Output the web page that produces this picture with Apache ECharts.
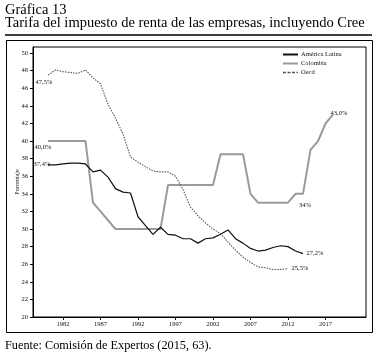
<!DOCTYPE html>
<html><head><meta charset="utf-8">
<script src="https://cdn.jsdelivr.net/npm/echarts@6/dist/echarts.min.js"></script>
<style>html,body{margin:0;padding:0;background:#fff}#c{width:386px;height:363px}</style>
</head><body><div id="c"></div>
<script>
const years = [];
for (let y = 1980; y <= 2018; y++) years.push(y);
const xTicks = [1982, 1987, 1992, 1997, 2002, 2007, 2012, 2017];
const yTicks = [20,22,24,26,28,30,32,34,36,38,40,42,44,46,48,50];
const latam = [37.3,37.3,37.4,37.5,37.5,37.4,36.5,36.7,35.9,34.6,34.2,34.1,31.4,30.4,29.4,30.2,29.4,29.3,28.9,28.9,28.4,28.9,29.0,29.4,29.9,28.9,28.4,27.8,27.5,27.6,27.9,28.1,28.0,27.5,27.2];
const colombia = [40,40,40,40,40,40,33,32,31,30,30,30,30,30,30,30,35,35,35,35,35,35,35,38.5,38.5,38.5,38.5,34,33,33,33,33,33,34,34,39,40,42,43];
const oecd = [47.5,48.1,47.9,47.8,47.7,48.1,47.2,46.5,44.2,42.6,40.8,38.2,37.6,37.1,36.6,36.5,36.5,36.0,34.5,32.5,31.5,30.7,30.0,29.5,28.5,27.6,26.8,26.2,25.7,25.6,25.4,25.4,25.5];
const names = ['América Latina', 'Colombia', 'Oecd'];
// labelled points: [seriesIndex, pointIndex, text, offset]
const labels = [
  [0, 0, '37,4%', [-6, -1]],
  [0, latam.length - 1, '27,2%', [12, 0]],
  [1, 0, '40,0%', [-5, 6]],
  [1, 34, '34%', [2, 11]],
  [1, colombia.length - 1, '43,0%', [6, -1]],
  [2, 0, '47,5%', [-4, 7]],
  [2, oecd.length - 1, '25,5%', [12, 0]]
];
const FONT = 'Liberation Serif';
function build(si, arr) {
  return arr.map((v, i) => {
    const l = labels.find(e => e[0] === si && e[1] === i);
    if (!l) return [years[i], v];
    return {
      value: [years[i], v],
      label: { show: true, formatter: l[2], position: 'inside', offset: l[3], opacity: 1,
        color: '#111', fontSize: 6.5, fontFamily: FONT }
    };
  });
}
const chart = echarts.init(document.getElementById('c'), null, { renderer: 'canvas' });
chart.setOption({
  animation: false,
  backgroundColor: '#fff',
  title: [
    { text: 'Gráfica 13\nTarifa del impuesto de renta de las empresas, incluyendo Cree', left: 5, top: 3, padding: 0,
      textStyle: { fontFamily: FONT, fontSize: 14.5, fontWeight: 'normal', color: '#000', lineHeight: 13.5 } },
    { text: 'Fuente: Comisión de Expertos (2015, 63).', left: 5, top: 340, padding: 0,
      textStyle: { fontFamily: FONT, fontSize: 12.3, fontWeight: 'normal', color: '#000' } }
  ],
  graphic: [
    { type: 'line', shape: { x1: 5, y1: 35, x2: 372, y2: 35 }, style: { stroke: '#000', lineWidth: 1.5 } },
    { type: 'rect', shape: { x: 6.5, y: 40.5, width: 366, height: 292 }, style: { fill: 'none', stroke: '#000', lineWidth: 1 } }
  ],
  legend: {
    orient: 'vertical', left: 282, top: 51, itemWidth: 15, itemHeight: 7, itemGap: 2, padding: 0,
    itemStyle: { opacity: 0 },
    textStyle: { fontFamily: FONT, fontSize: 6.5, color: '#111', padding: [0, 0, 0, -2] },
    data: [
      { name: names[0] },
      { name: names[1] },
      { name: names[2], lineStyle: { type: [3, 1.5], width: 1.6 } }
    ]
  },
  grid: { left: 33, top: 47, right: 20, bottom: 46, show: true, borderColor: '#000', borderWidth: 1, containLabel: false },
  xAxis: {
    type: 'value', min: 1978, max: 2022.4,
    axisLine: { lineStyle: { color: '#000', width: 1 } },
    axisTick: { show: true, length: 3, customValues: xTicks, lineStyle: { color: '#000' } },
    axisLabel: { customValues: xTicks, margin: 4, fontFamily: FONT, fontSize: 6.5, color: '#111', formatter: v => String(v) },
    splitLine: { show: false }
  },
  yAxis: {
    type: 'value', min: 20, max: 50.7,
    name: 'Porcentaje', nameLocation: 'middle', nameGap: 13, nameMoveOverlap: false,
    nameTextStyle: { fontFamily: FONT, fontSize: 6, color: '#111' },
    axisLine: { show: true, lineStyle: { color: '#000', width: 1 } },
    axisTick: { show: true, length: 3, customValues: yTicks, lineStyle: { color: '#000' } },
    axisLabel: { customValues: yTicks, margin: 5, fontFamily: FONT, fontSize: 6.5, color: '#111', formatter: v => String(v) },
    splitLine: { show: false }
  },
  series: [
    { name: names[0], type: 'line', symbol: 'circle', symbolSize: 1, showSymbol: true, data: build(0, latam),
      lineStyle: { color: '#111', width: 1.2 }, itemStyle: { color: 'rgba(0,0,0,0)', borderWidth: 0 }, z: 4 },
    { name: names[1], type: 'line', symbol: 'circle', symbolSize: 1, showSymbol: true, data: build(1, colombia),
      lineStyle: { color: '#9a9a9a', width: 2 }, itemStyle: { color: 'rgba(0,0,0,0)', borderWidth: 0 }, z: 3 },
    { name: names[2], type: 'line', symbol: 'circle', symbolSize: 1, showSymbol: true, data: build(2, oecd),
      lineStyle: { color: '#555', width: 1.1, type: [1.5, 1.2] }, itemStyle: { color: 'rgba(0,0,0,0)', borderWidth: 0 }, z: 5 }
  ]
});
</script></body></html>
